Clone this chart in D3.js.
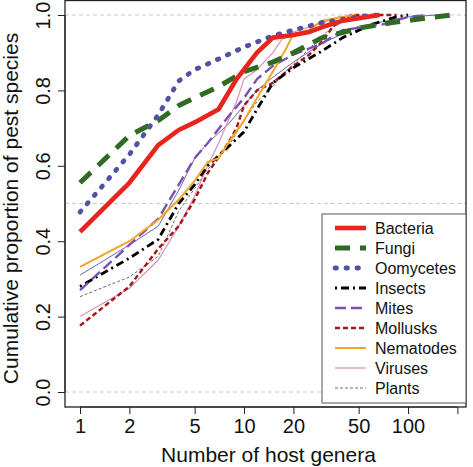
<!DOCTYPE html>
<html><head><meta charset="utf-8">
<script src="https://cdn.jsdelivr.net/npm/d3@7"></script>
<style>body{margin:0;background:#fff}svg{display:block}text{font-family:"Liberation Sans",Arial,sans-serif}</style>
</head><body><svg id="c" width="473" height="467"></svg>
<script>
// ---- data ----
const bacteriaX = [1,2,3,4,5,7,9,12,15,20,25,30,40,67];
const bacteriaY = [0.425,0.555,0.655,0.695,0.715,0.75,0.83,0.90,0.94,0.947,0.955,0.968,0.985,1.0];
const fungiX = [1,2,3,4,5,7,10,15,20,30,50,80,120,183];
const fungiY = [0.555,0.68,0.72,0.76,0.78,0.81,0.85,0.875,0.90,0.94,0.965,0.98,0.99,1.0];
const oomycetesX = [1,2,3,4,5,6,8,10,15,20,30,50,65];
const oomycetesY = [0.477,0.63,0.735,0.825,0.855,0.87,0.895,0.915,0.945,0.96,0.98,0.995,1.0];
const insectsX = [1,2,3,4,5,6,8,10,12,15,20,30,40,60,85,100];
const insectsY = [0.28,0.355,0.405,0.50,0.55,0.60,0.65,0.69,0.75,0.82,0.86,0.905,0.94,0.975,0.995,1.0];
const mitesX = [1,2,3,4,5,6,8,10,12,15,20,30,40,70,100,130];
const mitesY = [0.27,0.39,0.46,0.55,0.62,0.66,0.73,0.78,0.83,0.865,0.895,0.925,0.96,0.975,0.995,1.0];
const molluskX = [1,2,3,4,5,6,8,9,10,12,15,20,25,30,35,45,85];
const molluskY = [0.176,0.28,0.38,0.44,0.51,0.58,0.66,0.70,0.76,0.80,0.82,0.865,0.895,0.93,0.97,1.0,1.0];
const nematodeX = [1,2,3,4,5,6,7,8,10,12,15,18,20,25,30,40,48];
const nematodeY = [0.332,0.40,0.457,0.51,0.56,0.61,0.62,0.66,0.72,0.78,0.85,0.91,0.95,0.96,0.985,0.995,1.0];
const virusX = [1,2,3,4,5,6,7,9,10,12,15,17,20,28,38,50];
const virusY = [0.20,0.275,0.35,0.44,0.52,0.60,0.66,0.77,0.83,0.855,0.90,0.935,0.955,0.975,0.995,1.0];
const plantX = [1,2,3,4,5,6,8,10,12,15,17,20,25,30,35,45,60];
const plantY = [0.253,0.305,0.36,0.48,0.54,0.59,0.65,0.72,0.77,0.81,0.84,0.87,0.91,0.945,0.97,0.99,1.0];
const allX = [1,2,3,4,5,6,8,10,12,15,20,30,50,100,150];
const allY = [0.31,0.39,0.44,0.535,0.62,0.66,0.71,0.76,0.80,0.835,0.875,0.925,0.97,0.995,1.0];

const xTicks = [1,2,5,10,20,50,100,200];
const xTickLabels = ["1","2","5","10","20","50","100",""];
const yTicks = [0,0.2,0.4,0.6,0.8,1.0];
const yTickLabels = ["0.0","0.2","0.4","0.6","0.8","1.0"];
const gridValues = [0,0.5,1];
const legendNames = ["Bacteria","Fungi","Oomycetes","Insects","Mites","Mollusks","Nematodes","Viruses","Plants"];

// ---- styles ----
const styles = {
  Bacteria:{c:"#E8241C",w:4.6,d:null},
  Fungi:{c:"#2F6B22",w:5,d:"15 10"},
  Oomycetes:{c:"#5252A3",w:4.8,d:"1.5 9.5",cap:"round"},
  Insects:{c:"#000",w:2.8,d:"2 4 8 4"},
  Mites:{c:"#7E4FB2",w:2.4,d:"11 5"},
  Mollusks:{c:"#A3161A",w:2.4,d:"5 3"},
  Nematodes:{c:"#F2A526",w:2,d:null},
  Viruses:{c:"#D890BA",w:1.2,d:null},
  Plants:{c:"#6e6e6e",w:1,d:"3 2"},
  All:{c:"#6767B4",w:1,d:null}
};
const series = [
  ["All",allX,allY],["Plants",plantX,plantY],["Viruses",virusX,virusY],["Mollusks",molluskX,molluskY],
  ["Insects",insectsX,insectsY],["Mites",mitesX,mitesY],["Nematodes",nematodeX,nematodeY],
  ["Fungi",fungiX,fungiY],["Oomycetes",oomycetesX,oomycetesY],["Bacteria",bacteriaX,bacteriaY]
];

const svg = d3.select("#c");
const x = d3.scaleLog().domain([1,200]).range([80,457.4]);
const y = d3.scaleLinear().domain([0,1]).range([392,15]);
const box = {l:65,r:466,t:0.5,b:407};

// grid
svg.append("g").selectAll("line").data(gridValues).join("line")
  .attr("x1",box.l).attr("x2",box.r).attr("y1",d=>y(d)).attr("y2",d=>y(d))
  .attr("stroke","#c8c8c8").attr("stroke-width",1).attr("stroke-dasharray","4 3");

// lines
const line = d3.line().x(d=>x(d[0])).y(d=>y(d[1]));
const lg = svg.append("g");
series.forEach(([name,xs,ys])=>{
  const s = styles[name];
  lg.append("path").attr("d",line(xs.map((v,i)=>[v,ys[i]])))
    .attr("fill","none").attr("stroke",s.c).attr("stroke-width",s.w)
    .attr("stroke-dasharray",s.d).attr("stroke-linecap",s.cap||"butt").attr("stroke-linejoin","round");
});

// box
svg.append("rect").attr("x",box.l).attr("y",box.t).attr("width",box.r-box.l).attr("height",box.b-box.t)
  .attr("fill","none").attr("stroke","#222").attr("stroke-width",1.3);

// x axis
const xa = svg.append("g").attr("transform",`translate(0,${box.b})`)
  .call(d3.axisBottom(x).tickValues(xTicks).tickFormat((d,i)=>xTickLabels[i]).tickSize(7).tickPadding(5));
xa.select(".domain").attr("d",`M${x(1)},0H${x(200)}`).attr("stroke","#222");
xa.selectAll(".tick line").attr("stroke","#222");
xa.selectAll("text").attr("font-size",20).attr("fill","#111").attr("font-family","Liberation Sans, Arial");

// y axis
const ya = svg.append("g").attr("transform",`translate(${box.l},0)`)
  .call(d3.axisLeft(y).tickValues(yTicks).tickFormat((d,i)=>yTickLabels[i]).tickSize(7));
ya.select(".domain").attr("d",`M0,${y(0)}V${y(1)}`).attr("stroke","#222");
ya.selectAll(".tick line").attr("stroke","#222");
ya.selectAll("text").attr("x",0).attr("y",0).attr("dy",null)
  .attr("transform","translate(-15,0) rotate(-90)").attr("text-anchor","middle")
  .attr("font-size",20).attr("fill","#111").attr("font-family","Liberation Sans, Arial");

// titles
svg.append("text").attr("x",(box.l+box.r)/2+3).attr("y",462).attr("text-anchor","middle")
  .attr("font-size",21).attr("fill","#111").text("Number of host genera");
svg.append("text").attr("transform",`translate(18,${(y(0)+y(1))/2+5}) rotate(-90)`).attr("text-anchor","middle")
  .attr("font-size",21).attr("fill","#111").text("Cumulative proportion of pest species");

// legend
const leg = svg.append("g");
leg.append("rect").attr("x",322).attr("y",214).attr("width",box.r-322).attr("height",403-214)
  .attr("fill","#fff").attr("stroke","#555").attr("stroke-width",1);
legendNames.forEach((n,i)=>{
  const s = styles[n]; const yy = 228 + i*20;
  leg.append("line").attr("x1",335).attr("x2",366).attr("y1",yy).attr("y2",yy)
    .attr("stroke",s.c).attr("stroke-width",s.w).attr("stroke-dasharray",s.d).attr("stroke-linecap",s.cap||"butt");
  leg.append("text").attr("x",375).attr("y",yy+6).attr("font-size",16).attr("fill","#111").text(n);
});
</script></body></html>
